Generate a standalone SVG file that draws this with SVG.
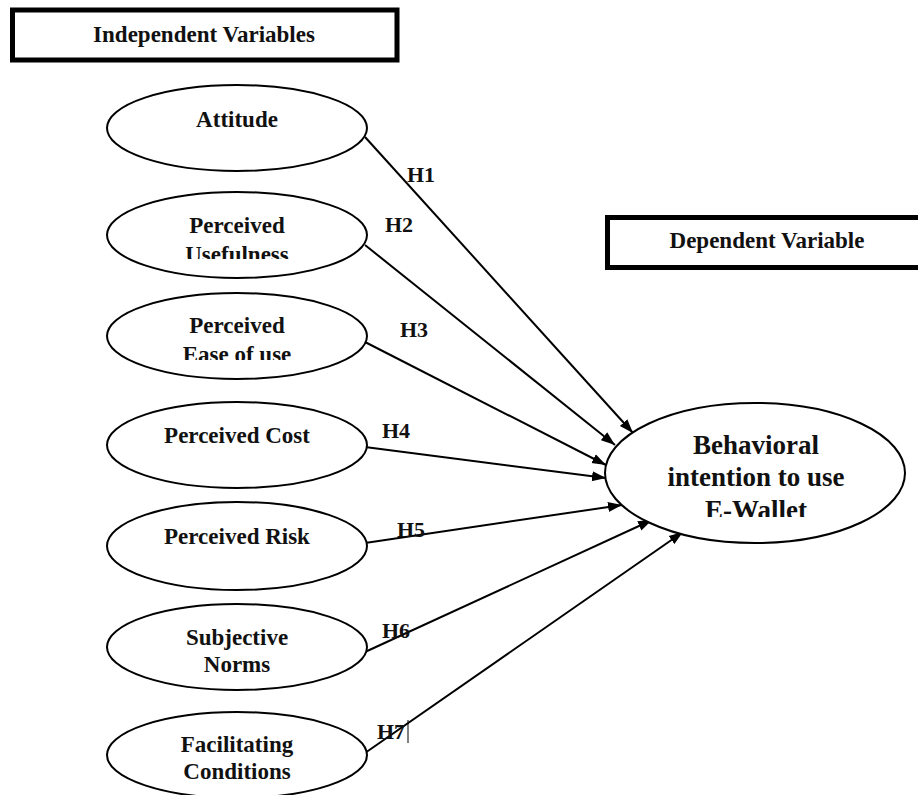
<svg xmlns="http://www.w3.org/2000/svg" width="918" height="795" viewBox="0 0 918 795">
  <style>
    .bg { fill: #ffffff; }
    .box { fill: #ffffff; stroke: #000; stroke-width: 5; }
    .ell { fill: #ffffff; stroke: #000; stroke-width: 2; }
    .edge { stroke: #000; stroke-width: 2; fill: none; marker-end: url(#arrow); }
    .t { font-family: "Liberation Serif", "Times New Roman", serif; font-weight: bold; fill: #111; text-anchor: middle; font-size: 23px; }
    .big { font-size: 27px; }
    .h { font-family: "Liberation Serif", "Times New Roman", serif; font-weight: bold; fill: #111; font-size: 22px; }
  </style>
  <defs>
    <marker id="arrow" markerUnits="userSpaceOnUse" markerWidth="14" markerHeight="12" viewBox="0 0 14 12" refX="14" refY="6" orient="auto">
      <path d="M0,1 L14,6 L0,11 Z" fill="#000"/>
    </marker>
    <clipPath id="clipPU"><rect x="0" y="0" width="918" height="259"/></clipPath>
    <clipPath id="clipPE"><rect x="0" y="0" width="918" height="360"/></clipPath>
    <clipPath id="clipBI"><rect x="0" y="0" width="918" height="517"/></clipPath>
  </defs>
  <rect class="bg" x="0" y="0" width="918" height="795"/>

  <g id="independent-label">
    <rect class="box" x="12.5" y="10" width="384.5" height="50"/>
    <text class="t" x="204" y="42">Independent Variables</text>
  </g>

  <g id="dependent-label">
    <rect class="box" x="607.5" y="217.5" width="330" height="50"/>
    <text class="t" x="767" y="248">Dependent Variable</text>
  </g>

  <g id="connectors">
    <line class="edge" x1="365" y1="137" x2="633" y2="433"/>
    <line class="edge" x1="365" y1="245" x2="615" y2="445"/>
    <line class="edge" x1="365" y1="342" x2="606" y2="465"/>
    <line class="edge" x1="365" y1="447" x2="606" y2="478"/>
    <line class="edge" x1="365" y1="543" x2="622" y2="505"/>
    <line class="edge" x1="365" y1="652" x2="652" y2="520"/>
    <line class="edge" x1="365" y1="753" x2="683" y2="532"/>
    <line x1="408" y1="720" x2="408" y2="743" stroke="#000" stroke-width="1"/>
  </g>

  <g id="attitude">
    <ellipse class="ell" cx="237" cy="128" rx="130" ry="43"/>
    <text class="t" x="237" y="127">Attitude</text>
  </g>

  <g id="perceived-usefulness">
    <ellipse class="ell" cx="237" cy="235" rx="130" ry="43"/>
    <text class="t" x="237" y="233">Perceived</text>
    <text class="t" x="237" y="262" clip-path="url(#clipPU)">Usefulness</text>
  </g>

  <g id="perceived-ease">
    <ellipse class="ell" cx="237" cy="336" rx="130" ry="43"/>
    <text class="t" x="237" y="333">Perceived</text>
    <text class="t" x="237" y="362" clip-path="url(#clipPE)">Ease of use</text>
  </g>

  <g id="perceived-cost">
    <ellipse class="ell" cx="237" cy="445" rx="130" ry="43"/>
    <text class="t" x="237" y="443">Perceived Cost</text>
  </g>

  <g id="perceived-risk">
    <ellipse class="ell" cx="237" cy="546" rx="130" ry="44"/>
    <text class="t" x="237" y="544">Perceived Risk</text>
  </g>

  <g id="subjective-norms">
    <ellipse class="ell" cx="237" cy="647" rx="130" ry="43"/>
    <text class="t" x="237" y="645">Subjective</text>
    <text class="t" x="237" y="672">Norms</text>
  </g>

  <g id="facilitating-conditions">
    <ellipse class="ell" cx="237" cy="755" rx="130" ry="43"/>
    <text class="t" x="237" y="752">Facilitating</text>
    <text class="t" x="237" y="779">Conditions</text>
  </g>

  <g id="behavioral-intention">
    <ellipse class="ell" cx="755" cy="473" rx="150" ry="70"/>
    <text class="t big" x="756" y="454">Behavioral</text>
    <text class="t big" x="756" y="486">intention to use</text>
    <text class="t big" x="756" y="519" clip-path="url(#clipBI)">E-Wallet</text>
  </g>

  <g id="hypothesis-labels">
    <text class="h" x="407" y="182">H1</text>
    <text class="h" x="385" y="232">H2</text>
    <text class="h" x="400" y="337">H3</text>
    <text class="h" x="382" y="438">H4</text>
    <text class="h" x="397" y="537">H5</text>
    <text class="h" x="382" y="638">H6</text>
    <text class="h" x="377" y="739">H7</text>
  </g>
</svg>
